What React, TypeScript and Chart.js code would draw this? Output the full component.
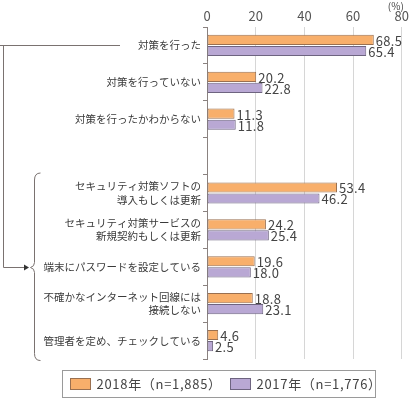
import React, { useEffect, useRef } from "react";
import { Chart, registerables } from "chart.js";

Chart.register(...registerables);

const categories: (string | string[])[] = [
  "対策を行った",
  "対策を行っていない",
  "対策を行ったかわからない",
  "",
  ["セキュリティ対策ソフトの", "導入もしくは更新"],
  ["セキュリティ対策サービスの", "新規契約もしくは更新"],
  "端末にパスワードを設定している",
  ["不確かなインターネット回線には", "接続しない"],
  "管理者を定め、チェックしている",
];
const values2018 = [68.5, 20.2, 11.3, null, 53.4, 24.2, 19.6, 18.8, 4.6];
const values2017 = [65.4, 22.8, 11.8, null, 46.2, 25.4, 18.0, 23.1, 2.5];
const seriesLabels = ["2018年（n=1,885）", "2017年（n=1,776）"];
const xMin = 0;
const xMax = 80;
const xStep = 20;
const unitLabel = "(%)";

const FONT = '"Noto Sans CJK JP", "Noto Sans", sans-serif';
const TEXT = "#444";
const ORANGE = "#F8AF6B";
const ORANGE_B = "#9A7050";
const PURPLE = "#B9A8D4";
const PURPLE_B = "#6E6480";
const LINE = "#7a7270";

const overlayPlugin = {
  id: "overlay",
  afterDatasetsDraw(chart: any) {
    const ctx = chart.ctx;
    ctx.save();
    ctx.font = `13px ${FONT}`;
    (ctx as any).letterSpacing = "0.3px";
    ctx.fillStyle = TEXT;
    ctx.textBaseline = "middle";
    ctx.textAlign = "left";
    chart.data.datasets.forEach((ds: any, di: number) => {
      const meta = chart.getDatasetMeta(di);
      meta.data.forEach((el: any, i: number) => {
        const v = ds.data[i];
        if (v === null || v === undefined) return;
        ctx.fillText(v.toFixed(1), el.x + 2, el.y + 1);
      });
    });
    ctx.restore();
  },
  afterDraw(chart: any) {
    const ctx = chart.ctx;
    const y = chart.scales.y;
    const x = chart.scales.x;
    ctx.save();
    // unit label
    ctx.font = `10px ${FONT}`;
    ctx.fillStyle = TEXT;
    ctx.textAlign = "center";
    ctx.textBaseline = "middle";
    ctx.fillText(unitLabel, x.getPixelForValue(xMax) - 6, 6);

    // bracket connector
    const yTop = Math.round(y.getPixelForValue(0)) + 0.5;
    const yArrow = Math.round(y.getPixelForValue(6)) + 0.5;
    ctx.strokeStyle = LINE;
    ctx.lineWidth = 1;
    ctx.beginPath();
    ctx.moveTo(0, yTop);
    ctx.lineTo(120, yTop);
    ctx.moveTo(3.5, yTop);
    ctx.lineTo(3.5, yArrow);
    ctx.lineTo(25, yArrow);
    ctx.stroke();
    ctx.fillStyle = "#333";
    ctx.beginPath();
    ctx.moveTo(29, yArrow);
    ctx.lineTo(24, yArrow - 3);
    ctx.lineTo(24, yArrow + 3);
    ctx.closePath();
    ctx.fill();

    // curly brace
    const bTop = y.getPixelForValue(4) - 20;
    const bBot = y.getPixelForValue(8) + 20;
    const bx = 34.5;
    ctx.strokeStyle = LINE;
    ctx.beginPath();
    ctx.moveTo(bx + 6, bTop);
    ctx.quadraticCurveTo(bx, bTop, bx, bTop + 7);
    ctx.lineTo(bx, yArrow - 5);
    ctx.quadraticCurveTo(bx, yArrow - 1, bx - 4, yArrow);
    ctx.quadraticCurveTo(bx, yArrow + 1, bx, yArrow + 5);
    ctx.lineTo(bx, bBot - 7);
    ctx.quadraticCurveTo(bx, bBot, bx + 6, bBot);
    ctx.stroke();

    // legend
    const lx = 62.5, ly = 370.5, lw = 313, lh = 27;
    ctx.strokeStyle = "#9a9a9a";
    ctx.strokeRect(lx, ly, lw, lh);
    const items = [
      { label: seriesLabels[0], fill: ORANGE, border: ORANGE_B, sx: 70.5 },
      { label: seriesLabels[1], fill: PURPLE, border: PURPLE_B, sx: 230.5 },
    ];
    ctx.font = `13px ${FONT}`;
    (ctx as any).letterSpacing = "0.7px";
    ctx.textAlign = "left";
    ctx.textBaseline = "middle";
    items.forEach((it) => {
      ctx.fillStyle = it.fill;
      ctx.fillRect(it.sx, 378.5, 20, 11);
      ctx.strokeStyle = it.border;
      ctx.strokeRect(it.sx, 378.5, 20, 11);
      ctx.fillStyle = TEXT;
      ctx.fillText(it.label, it.sx + 26, 384.5);
    });
    ctx.restore();
  },
};

export default function App() {
  const ref = useRef<HTMLCanvasElement | null>(null);
  useEffect(() => {
    if (!ref.current) return;
    Chart.defaults.font.family = FONT;
    const chart = new Chart(ref.current, {
      type: "bar",
      data: {
        labels: categories as any,
        datasets: [
          {
            label: seriesLabels[0],
            data: values2018 as any,
            backgroundColor: ORANGE,
            borderColor: ORANGE_B,
            borderWidth: 1,
            borderSkipped: false,
            categoryPercentage: 0.6,
            barPercentage: 0.92,
          },
          {
            label: seriesLabels[1],
            data: values2017 as any,
            backgroundColor: PURPLE,
            borderColor: PURPLE_B,
            borderWidth: 1,
            borderSkipped: false,
            categoryPercentage: 0.6,
            barPercentage: 0.92,
          },
        ],
      },
      options: {
        indexAxis: "y",
        responsive: false,
        animation: false,
        layout: { padding: { left: 0, right: 8, top: 0, bottom: 39 } },
        plugins: { legend: { display: false }, tooltip: { enabled: false } },
        scales: {
          x: {
            position: "top",
            min: xMin,
            max: xMax,
            ticks: { stepSize: xStep, color: "#555", font: { size: 13, family: FONT }, padding: 3 },
            grid: {
              drawTicks: false,
              color: (c: any) => (c.tick && c.tick.value === 0 ? "rgba(0,0,0,0)" : "#d6d6d6"),
            },
            border: { display: false },
            afterFit: (s: any) => {
              s.height = 27;
            },
          },
          y: {
            ticks: { color: "#3a3a3a", font: { size: 10.5, family: FONT, lineHeight: 1.25 }, padding: 2, autoSkip: false },
            grid: { display: true, drawOnChartArea: false, drawTicks: true, tickLength: 4, color: "#8a8280", offset: true },
            border: { display: true, color: "#8a8280", width: 1 },
            afterFit: (s: any) => {
              s.width = 207;
            },
          },
        },
      } as any,
      plugins: [overlayPlugin],
    });
    return () => chart.destroy();
  }, []);
  return (
    <div style={{ position: "absolute", left: 0, top: 0, width: 412, height: 398, background: "#fff" }}>
      <canvas ref={ref} width={412} height={398} style={{ width: 412, height: 398 }} />
    </div>
  );
}
